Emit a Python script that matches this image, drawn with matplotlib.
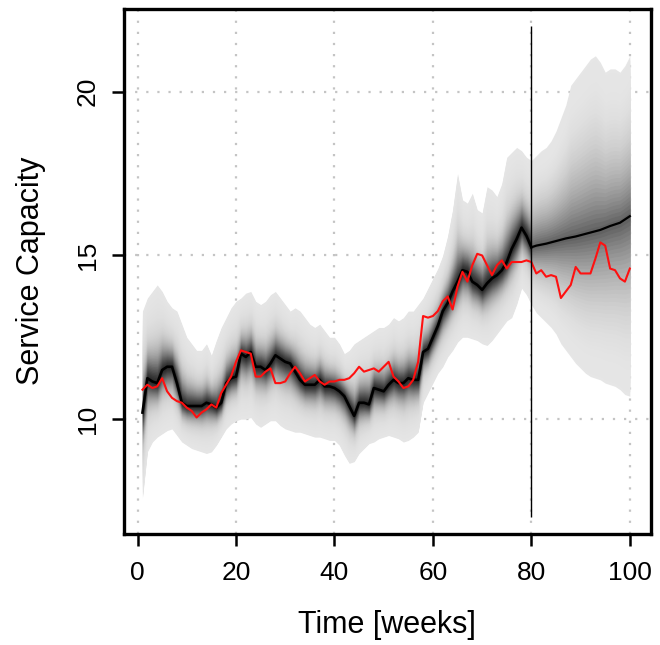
import numpy as np
import matplotlib
matplotlib.use("Agg")
import matplotlib.pyplot as plt

plt.rcParams['font.family'] = ['Liberation Sans', 'DejaVu Sans']

# ---------------- data ----------------
weeks_hist = list(range(1, 81))
median_hist = [10.2, 11.25, 11.15, 11.1, 11.5, 11.6, 11.6, 11.1, 10.5, 10.4,
               10.4, 10.4, 10.4, 10.5, 10.45, 10.35, 10.5, 11.1, 11.25, 11.3,
               12.0, 11.9, 12.05, 11.6, 11.6, 11.5, 11.7, 11.95, 11.85, 11.75,
               11.7, 11.45, 11.2, 11.05, 11.05, 11.05, 11.2, 11.0, 11.0, 10.95,
               10.85, 10.7, 10.4, 10.1, 10.5, 10.5, 10.45, 10.95, 10.9, 10.85,
               11.05, 11.2, 11.1, 11.1, 11.25, 11.2, 11.2, 12.05, 12.15, 12.5,
               12.85, 13.3, 13.55, 13.9, 14.2, 14.55, 14.5, 14.2, 14.1, 13.95,
               14.15, 14.3, 14.4, 14.55, 14.8, 15.2, 15.5, 15.85, 15.6, 15.25]
upper_hist = [13.3, 13.7, 13.9, 14.1, 13.9, 13.6, 13.4, 13.3, 12.9, 12.5,
              12.3, 12.1, 12.1, 12.3, 11.95, 12.4, 12.8, 13.1, 13.4, 13.6,
              13.7, 13.85, 13.9, 13.6, 13.5, 13.6, 13.8, 13.9, 13.7, 13.5,
              13.3, 13.4, 13.3, 13.1, 12.9, 12.8, 12.9, 12.7, 12.5, 12.5,
              12.3, 12.0, 12.1, 12.3, 12.4, 12.5, 12.6, 12.7, 12.8, 12.8,
              12.9, 13.1, 13.0, 13.1, 13.3, 13.3, 13.5, 13.7, 14.0, 14.3,
              14.6, 15.0, 15.6, 16.4, 17.5, 16.7, 16.6, 16.9, 16.4, 16.3,
              17.1, 17.0, 16.8, 17.2, 18.0, 18.15, 18.3, 18.2, 18.0, 17.9]
lower_hist = [7.6, 9.0, 9.3, 9.45, 9.55, 9.65, 9.7, 9.5, 9.3, 9.2,
              9.1, 9.05, 9.0, 8.95, 9.0, 9.2, 9.45, 9.7, 9.85, 9.95,
              10.0, 10.0, 10.05, 9.85, 9.75, 9.85, 9.95, 9.95, 9.8, 9.7,
              9.65, 9.6, 9.6, 9.55, 9.5, 9.45, 9.45, 9.4, 9.35, 9.35,
              9.2, 8.9, 8.65, 8.7, 8.95, 9.1, 9.25, 9.3, 9.4, 9.45,
              9.5, 9.45, 9.4, 9.3, 9.35, 9.45, 9.6, 10.5, 10.8, 11.1,
              11.4, 11.6, 11.9, 12.1, 12.35, 12.5, 12.5, 12.45, 12.4, 12.3,
              12.25, 12.4, 12.6, 12.8, 13.0, 13.1, 13.5, 14.0, 13.8, 13.5]

weeks_fc = list(range(80, 101))
median_fc = [15.25, 15.3, 15.33, 15.36, 15.4, 15.44, 15.48, 15.52, 15.55, 15.58,
             15.62, 15.66, 15.7, 15.74, 15.78, 15.84, 15.9, 15.95, 16.0, 16.1, 16.2]
upper_fc = [17.9, 18.05, 18.2, 18.3, 18.5, 18.8, 19.2, 19.6, 20.2, 20.4,
            20.6, 20.8, 21.0, 21.1, 20.9, 20.6, 20.7, 20.7, 20.6, 20.8, 21.1]
lower_fc = [13.5, 13.25, 13.1, 12.95, 12.8, 12.6, 12.3, 12.1, 11.9, 11.7,
            11.55, 11.4, 11.3, 11.25, 11.2, 11.1, 11.05, 11.0, 10.9, 10.75, 10.7]

weeks_obs = list(range(1, 101))
observed = [10.9, 11.05, 10.95, 11.0, 11.25, 10.85, 10.65, 10.55, 10.5, 10.35,
            10.25, 10.05, 10.2, 10.3, 10.45, 10.35, 10.8, 11.05, 11.3, 11.75,
            12.1, 12.05, 12.0, 11.3, 11.3, 11.45, 11.55, 11.1, 11.1, 11.15,
            11.4, 11.6, 11.4, 11.15, 11.25, 11.35, 11.15, 11.05, 11.15, 11.15,
            11.2, 11.2, 11.25, 11.4, 11.6, 11.45, 11.5, 11.55, 11.45, 11.6,
            11.75, 11.3, 11.15, 10.95, 11.0, 11.2, 11.75, 13.15, 13.1, 13.15,
            13.3, 13.6, 13.75, 13.35, 14.05, 14.5, 14.2, 14.7, 15.05, 15.0,
            14.7, 14.4, 14.7, 14.85, 14.6, 14.8, 14.8, 14.8, 14.85, 14.8,
            14.45, 14.55, 14.35, 14.4, 14.35, 13.7, 13.9, 14.1, 14.65, 14.45,
            14.45, 14.45, 14.9, 15.4, 15.3, 14.6, 14.55, 14.3, 14.2, 14.6]

forecast_origin = 80
xticks = [0, 20, 40, 60, 80, 100]
yticks = [10, 15, 20]

# ---------------- figure ----------------
W, H = 660, 645
fig = plt.figure(figsize=(W / 100, H / 100), dpi=100)
ax = fig.add_axes([124 / W, 1 - 534 / H, (651 - 124) / W, (534 - 9) / H])


def draw_fan(x, med, up, lo, nb, shade):
    x = np.asarray(x, float)
    med = np.asarray(med, float)
    up = np.asarray(up, float)
    lo = np.asarray(lo, float)
    for k in range(nb):
        f = 1 - k / nb
        g = shade(f)
        ax.fill_between(x, med + f * (up - med), med - f * (med - lo),
                        color=(g, g, g), lw=0, zorder=1)


def shade_hist(f):
    return 0.15 + 0.70 * (1 - np.exp(-(f / 0.28) ** 1.6)) + 0.05 * f


def shade_fc(f):
    return 0.90 - 0.55 * (1 - f) ** 2.5


draw_fan(weeks_hist, median_hist, upper_hist, lower_hist, 60, shade_hist)
draw_fan(weeks_fc, median_fc, upper_fc, lower_fc, 40, shade_fc)

ax.plot(weeks_hist, median_hist, color='black', lw=1.9, zorder=3)
ax.plot(weeks_fc, median_fc, color='black', lw=1.6, zorder=3)
ax.plot(weeks_obs, observed, color='#ff1010', lw=1.5, zorder=4)
ax.vlines(forecast_origin, 7, 22, color='black', lw=1.0, zorder=5)

ax.set_xlim(-2.75, 104.3)
ax.set_ylim(6.49, 22.53)
ax.set_xticks(xticks)
ax.set_yticks(yticks)
ax.set_xticklabels([str(v) for v in xticks])
ax.set_yticklabels([str(v) for v in yticks], rotation=90, va='center')

ax.set_axisbelow(True)
ax.grid(True, color='#c4c4c4', linestyle=(0, (1, 4)), lw=1.6, zorder=0)

for s in ax.spines.values():
    s.set_linewidth(2.4)
ax.tick_params(axis='both', length=8.6, width=1.8, labelsize=19)
ax.tick_params(axis='x', pad=11)
ax.tick_params(axis='y', pad=9)

fig.text(387 / W, 1 - 625 / H, 'Time [weeks]', ha='center', va='center', fontsize=22)
fig.text(31 / W, 1 - 271 / H, 'Service Capacity', ha='center', va='center',
         rotation=90, fontsize=22)

fig.savefig('out.png', dpi=100)
